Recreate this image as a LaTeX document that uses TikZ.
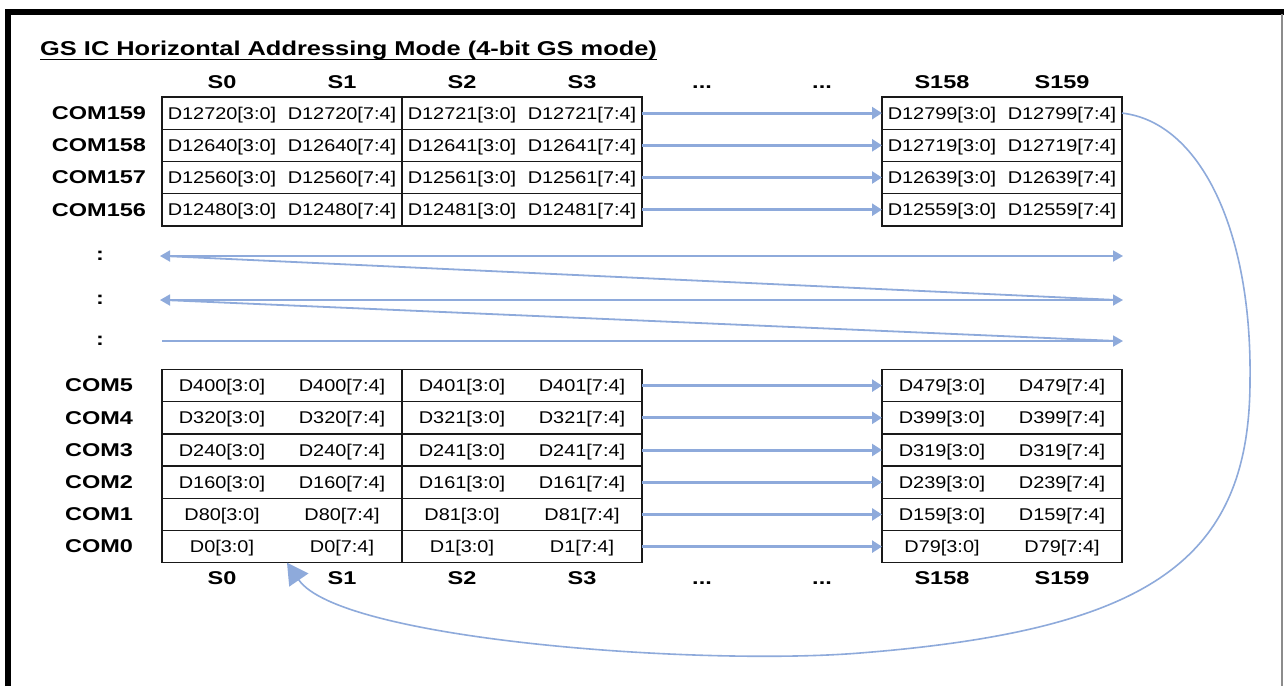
\documentclass[tikz,border=0pt]{standalone}
\usepackage{fontspec}
\setmainfont{Liberation Sans}
\newfontfamily\cellfont[FakeStretch=1.17]{Liberation Sans}
\newfontfamily\boldfont[FakeStretch=1.27]{Liberation Sans}
\newcommand{\tdots}{...}
\usetikzlibrary{arrows.meta}
\definecolor{arrblue}{HTML}{8EAADB}
\tikzset{
  cell/.style={minimum width=120pt, minimum height=32.2pt, inner sep=0pt, outer sep=0pt,
    font=\cellfont\fontsize{17}{20}\selectfont, text height=12.2pt, text depth=0pt},
  hdr/.style={font=\boldfont\bfseries\fontsize{18.5}{22}\selectfont, inner sep=0pt, anchor=base},
  comlbl/.style={font=\boldfont\bfseries\fontsize{18.5}{22}\selectfont, inner sep=0pt},
  tblline/.style={draw=black!90, line width=1.4pt},
  harrow/.style={draw=arrblue, line width=3pt, -{Triangle[length=10pt,width=12pt]}},
  zline/.style={draw=arrblue, line width=1.8pt},
  bigarrow/.style={draw=arrblue, line width=1.6pt, -{Triangle[length=21pt,width=23pt]}}
}
\begin{document}
\begin{tikzpicture}[x=1pt,y=-1pt]
\useasboundingbox (0,0) rectangle (1284,686);
\fill[white] (0,0) rectangle (1284,686);
% frame
\draw[black, line width=5.5pt, line join=miter] (8,686) -- (8,12) -- (1284,12);
\draw[black!45, line width=1.2pt] (1282,14) -- (1282,686);
% title
\node[anchor=base west, inner sep=0pt, font=\boldfont\bfseries\fontsize{20}{24}\selectfont] (title) at (40,55) {GS IC Horizontal Addressing Mode (4-bit GS mode)};
\draw[line width=1.6pt] ([yshift=-4.3pt]title.base west) -- ([yshift=-4.3pt]title.base east);
% headers
\foreach \xx/\tt [count=\k] in {222/S0,342/S1,462/S2,582/S3,702/\tdots,822/\tdots,942/S158,1062/S159}{
  \node[hdr] (ht-\k) at (\xx,88) {\tt};
  \node[hdr] (hb-\k) at (\xx,584) {\tt};
}
% top table
\foreach \va/\vb/\vc/\cm [count=\i] in {12720/12721/12799/159,12640/12641/12719/158,12560/12561/12639/157,12480/12481/12559/156}{
  \pgfmathsetmacro\yy{97+32.2*(\i-0.5)}
  \node[comlbl] (tc-\i) at (99,\yy) {COM\cm};
  \node[cell] (t-\i-1) at (222,\yy) {D\va[3:0]};
  \node[cell] (t-\i-2) at (342,\yy) {D\va[7:4]};
  \node[cell] (t-\i-3) at (462,\yy) {D\vb[3:0]};
  \node[cell] (t-\i-4) at (582,\yy) {D\vb[7:4]};
  \node[cell] (t-\i-7) at (942,\yy) {D\vc[3:0]};
  \node[cell] (t-\i-8) at (1062,\yy) {D\vc[7:4]};
  \draw[tblline] (t-\i-1.north west) rectangle (t-\i-2.south east);
  \draw[tblline] (t-\i-3.north west) rectangle (t-\i-4.south east);
  \draw[tblline] (t-\i-7.north west) rectangle (t-\i-8.south east);
  \draw[harrow] (t-\i-4.east) -- (t-\i-7.west);
}
% bottom table
\foreach \va/\vb/\vc/\cm [count=\i] in {400/401/479/5,320/321/399/4,240/241/319/3,160/161/239/2,80/81/159/1,0/1/79/0}{
  \pgfmathsetmacro\yy{369.5+32.2*(\i-0.5)}
  \node[comlbl] (bc-\i) at (99,\yy) {COM\cm};
  \node[cell] (b-\i-1) at (222,\yy) {D\va[3:0]};
  \node[cell] (b-\i-2) at (342,\yy) {D\va[7:4]};
  \node[cell] (b-\i-3) at (462,\yy) {D\vb[3:0]};
  \node[cell] (b-\i-4) at (582,\yy) {D\vb[7:4]};
  \node[cell] (b-\i-7) at (942,\yy) {D\vc[3:0]};
  \node[cell] (b-\i-8) at (1062,\yy) {D\vc[7:4]};
  \draw[tblline] (b-\i-1.north west) rectangle (b-\i-2.south east);
  \draw[tblline] (b-\i-3.north west) rectangle (b-\i-4.south east);
  \draw[tblline] (b-\i-7.north west) rectangle (b-\i-8.south east);
  \draw[harrow] (b-\i-4.east) -- (b-\i-7.west);
}
% colons
\node[comlbl] (c1) at (100,256) {:};
\node[comlbl] (c2) at (100,300) {:};
\node[comlbl] (c3) at (100,341) {:};
% zigzag
\coordinate (z1l) at (160,256); \coordinate (z1r) at (1123,256);
\coordinate (z2l) at (160,300); \coordinate (z2r) at (1123,300);
\coordinate (z3l) at (162,341); \coordinate (z3r) at (1123,341);
\draw[zline, {Triangle[length=10pt,width=11pt]}-{Triangle[length=10pt,width=11pt]}] (z1l) -- (z1r);
\draw[zline, {Triangle[length=10pt,width=11pt]}-{Triangle[length=10pt,width=11pt]}] (z2l) -- (z2r);
\draw[zline, -{Triangle[length=10pt,width=11pt]}] (z3l) -- (z3r);
\draw[zline] ([xshift=4pt]z1l) -- ([xshift=-6pt]z2r);
\draw[zline] ([xshift=4pt]z2l) -- ([xshift=-6pt]z3r);
% big return curve
\coordinate (cv1) at (1250,380);
\coordinate (cv2) at (860,653);
\draw[bigarrow] (t-1-8.east) .. controls (1200,122) and (1252,230) .. (cv1)
  .. controls (1250,560) and (1150,630) .. (cv2)
  .. controls (700,666) and (340,640) .. ([xshift=5pt]b-6-1.south east);
\end{tikzpicture}
\end{document}
